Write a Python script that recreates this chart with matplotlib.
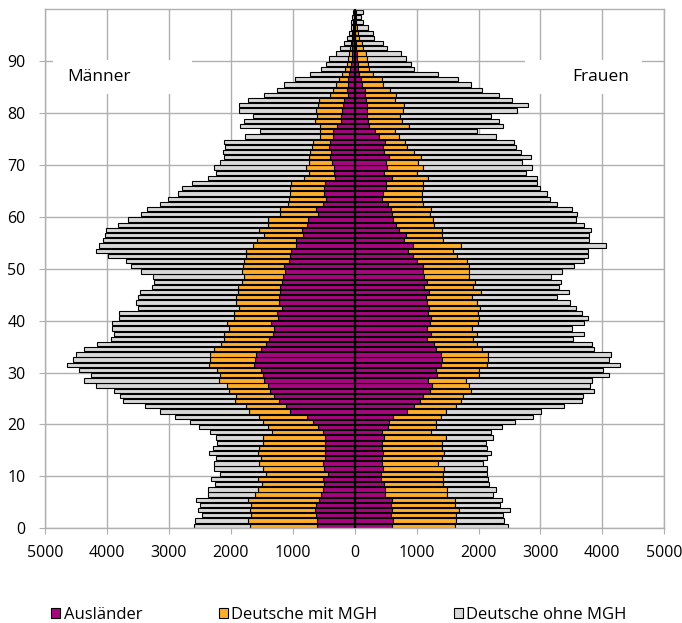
import numpy as np
import matplotlib
matplotlib.use("Agg")
from matplotlib import pyplot as plt
from matplotlib.patches import Rectangle, Patch
from matplotlib.ticker import FuncFormatter

plt.rcParams['font.family'] = ['Open Sans', 'DejaVu Sans']

ages = np.arange(100)

# Männer (ages 0..99)
men_aus = [609, 609, 619, 635, 619, 571, 544, 512, 490, 517,
           431, 490, 512, 485, 474, 474, 474, 485, 512, 592,
           679, 770, 1039, 1104, 1228, 1309, 1373, 1405, 1470, 1481,
           1513, 1621, 1605, 1594, 1513, 1432, 1389, 1325, 1309, 1352,
           1244, 1255, 1174, 1217, 1228, 1201, 1212, 1174, 1163, 1131,
           1147, 1066, 1039, 1023, 953, 942, 840, 851, 770, 759,
           598, 619, 512, 458, 490, 490, 474, 323, 328, 339,
           366, 393, 382, 420, 404, 355, 355, 285, 215, 220,
           205, 190, 178, 113, 118, 113, 100, 90, 80, 65,
           50, 45, 40, 35, 25, 20, 15, 12, 10, 10]
men_mit = [1087, 1114, 1050, 1061, 1056, 1152, 1072, 1055, 1007, 1050,
           1001, 996, 1028, 1028, 1093, 1077, 1007, 996, 823, 808,
           807, 781, 663, 651, 711, 603, 652, 657, 727, 689,
           711, 738, 737, 738, 765, 727, 727, 781, 727, 710,
           711, 700, 689, 700, 684, 689, 678, 646, 630, 689,
           657, 716, 722, 738, 695, 636, 630, 694, 630, 646,
           603, 593, 565, 608, 560, 560, 555, 501, 415, 447,
           377, 339, 334, 269, 269, 210, 200, 270, 420, 388,
           415, 402, 392, 291, 232, 187, 150, 110, 80, 65,
           50, 45, 35, 25, 25, 20, 15, 13, 8, 5]
men_ohne = [894, 862, 797, 840, 829, 835, 759, 808, 765, 754,
            749, 781, 727, 722, 781, 738, 743, 759, 997, 1120,
            1180, 1357, 1437, 1638, 1809, 1874, 1868, 2117, 2181, 2090,
            2219, 2288, 2198, 2170, 2100, 2004, 1815, 1787, 1884, 1858,
            1847, 1852, 1637, 1616, 1588, 1573, 1384, 1427, 1465, 1632,
            1809, 1917, 2229, 2423, 2482, 2488, 2569, 2472, 2429, 2262,
            2245, 2143, 2068, 1955, 1804, 1745, 1599, 1551, 1502, 1492,
            1438, 1384, 1411, 1411, 1433, 1212, 980, 1292, 1158, 1040,
            1243, 1282, 1153, 1061, 905, 847, 709, 527, 384, 333,
            320, 206, 167, 107, 74, 46, 35, 30, 22, 15]

# Frauen (ages 0..99)
women_aus = [598, 625, 582, 598, 582, 598, 485, 485, 479, 431,
             431, 463, 436, 447, 452, 436, 436, 479, 447, 533,
             555, 614, 840, 959, 1055, 1109, 1217, 1244, 1190, 1335,
             1314, 1389, 1416, 1389, 1314, 1282, 1174, 1233, 1174, 1217,
             1228, 1179, 1206, 1163, 1147, 1206, 1125, 1174, 1125, 1109,
             1099, 1002, 937, 867, 948, 802, 824, 722, 662, 614,
             598, 587, 533, 447, 452, 506, 501, 598, 479, 517,
             501, 560, 479, 463, 490, 398, 328, 237, 221, 205,
             194, 194, 183, 167, 167, 113, 102, 75, 60, 60,
             45, 32, 22, 15, 8, 5, 5, 3, 2, 2]
women_mit = [1023, 1012, 1050, 1093, 1039, 1028, 1001, 1012, 943, 991,
             991, 980, 916, 969, 997, 969, 969, 996, 781, 776,
             754, 775, 630, 673, 657, 646, 657, 608, 603, 679,
             700, 754, 733, 770, 738, 700, 743, 749, 727, 781,
             786, 808, 819, 819, 743, 830, 792, 775, 727, 743,
             743, 807, 722, 727, 764, 630, 587, 683, 625, 657,
             619, 646, 576, 641, 641, 603, 608, 592, 523, 582,
             528, 506, 485, 388, 328, 324, 329, 646, 538, 527,
             592, 608, 469, 495, 404, 350, 334, 227, 172, 161,
             149, 146, 108, 98, 67, 55, 35, 22, 13, 13]
women_ohne = [862, 781, 770, 824, 727, 749, 754, 781, 743, 737,
              721, 689, 727, 727, 748, 727, 717, 765, 974, 1077,
              1287, 1487, 1535, 1755, 1956, 1939, 1987, 1950, 2046, 2100,
              2003, 2149, 1954, 1977, 1820, 1847, 1616, 1723, 1605, 1712,
              1761, 1691, 1545, 1491, 1384, 1432, 1389, 1379, 1320, 1503,
              1707, 1901, 2116, 2181, 2348, 2348, 2369, 2413, 2418, 2299,
              2380, 2273, 2165, 2068, 2020, 1885, 1831, 1750, 1766, 1766,
              1680, 1783, 1723, 1750, 1755, 1561, 1325, 1519, 1567, 1465,
              1831, 2004, 1884, 1675, 1491, 1417, 1239, 1050, 732, 689,
              635, 565, 387, 350, 243, 240, 180, 115, 85, 125]

labels = ['Ausländer', 'Deutsche mit MGH', 'Deutsche ohne MGH']
colors = ['#A8067F', '#FFAE2A', '#D8D8D8']

fig = plt.figure(figsize=(6.82, 6.23), dpi=100)
ax = fig.add_axes([45 / 682, 1 - 528.3 / 623, (664.3 - 45) / 682, (528.3 - 9.3) / 623])

men = [np.array(men_aus), np.array(men_mit), np.array(men_ohne)]
women = [np.array(women_aus), np.array(women_mit), np.array(women_ohne)]

y = ages + 0.5
h = 0.82
left_m = np.zeros(100)
left_w = np.zeros(100)
for i in range(3):
    ax.barh(y, -men[i], height=h, left=left_m, color=colors[i],
            edgecolor='black', linewidth=0.8, zorder=2)
    ax.barh(y, women[i], height=h, left=left_w, color=colors[i],
            edgecolor='black', linewidth=0.8, zorder=2)
    left_m = left_m - men[i]
    left_w = left_w + women[i]

ax.axvline(0, color='black', linewidth=1.6, zorder=3)

ax.set_xlim(-5000, 5000)
ax.set_ylim(0, 100)
ax.set_xticks(np.arange(-5000, 5001, 1000))
ax.xaxis.set_major_formatter(FuncFormatter(lambda v, p: '%d' % abs(v)))
ax.set_yticks(np.arange(0, 91, 10))
ax.set_axisbelow(True)
ax.grid(True, color='#B0B0B0', linewidth=1.0)
for s in ax.spines.values():
    s.set_color('#B0B0B0')
    s.set_linewidth(1.0)
ax.tick_params(axis='both', colors='#B0B0B0', labelcolor='black', labelsize=11.5, length=4)
ax.tick_params(axis='x', pad=8)
ax.tick_params(axis='y', pad=10)

# white boxes behind labels
ax.add_patch(Rectangle((-4868, 83.6), 2246, 6.7, facecolor='white', edgecolor='none', zorder=1))
ax.add_patch(Rectangle((2750, 83.6), 1887, 6.7, facecolor='white', edgecolor='none', zorder=1))
ax.text(-4641, 86.9, 'Männer', ha='left', va='center', fontsize=12.5, zorder=4)
ax.text(3521, 86.9, 'Frauen', ha='left', va='center', fontsize=12.5, zorder=4)

handles = [Patch(facecolor=c, edgecolor='black', linewidth=0.8) for c in colors]
fig.legend(handles, labels, ncol=3, loc='center', bbox_to_anchor=(0.497, 1 - 615 / 623),
           frameon=False, fontsize=12, handlelength=0.55, handleheight=0.55,
           handletextpad=0.2, columnspacing=4.6, borderaxespad=0, borderpad=0)

fig.savefig('out.png', dpi=100)
